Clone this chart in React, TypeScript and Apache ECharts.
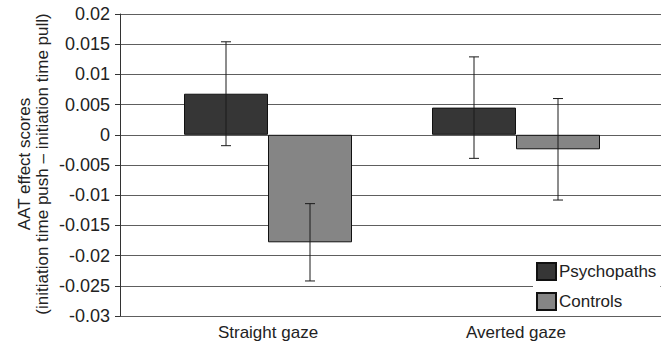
import React, { useEffect, useRef } from "react";
import * as echarts from "echarts";

const categories = ["Straight gaze", "Averted gaze"];
const psychopathMeans = [0.0068, 0.0045];
const psychopathErrors = [0.0086, 0.0084];
const controlMeans = [-0.0178, -0.0024];
const controlErrors = [0.0064, 0.0084];
const yMin = -0.03;
const yMax = 0.02;
const yInterval = 0.005;
const yAxisTitle = "AAT effect scores\n(initiation time push \u2013 initiation time pull)";

const FONT = "'Liberation Sans', Arial, sans-serif";
const BAR_W = 84;

export default function App() {
  const ref = useRef<HTMLDivElement>(null);
  useEffect(() => {
    if (!ref.current) return;
    const chart = echarts.init(ref.current, null, { renderer: "svg" });

    const errorSeries = (means: number[], errs: number[], side: number, name: string) => ({
      type: "custom",
      name,
      xAxisIndex: 1,
      yAxisIndex: 1,
      silent: true,
      z: 10,
      data: means.map((m, i) => [i, m - errs[i], m + errs[i]]),
      renderItem: (params: any, api: any) => {
        const i = api.value(0);
        const lo = api.coord([i, api.value(1)]);
        const hi = api.coord([i, api.value(2)]);
        const x = lo[0] + side * BAR_W / 2;
        const cap = 5;
        const style = { stroke: "#1a1a1a", lineWidth: 1 };
        return {
          type: "group",
          children: [
            { type: "line", shape: { x1: x, y1: hi[1], x2: x, y2: lo[1] }, style },
            { type: "line", shape: { x1: x - cap, y1: hi[1], x2: x + cap, y2: hi[1] }, style },
            { type: "line", shape: { x1: x - cap, y1: lo[1], x2: x + cap, y2: lo[1] }, style },
          ],
        };
      },
    });

    chart.setOption({
      animation: false,
      textStyle: { fontFamily: FONT },
      grid: [
        { left: 120, right: 0, top: 14, bottom: 28 },
        { left: 144, right: 21, top: 14, bottom: 28 },
      ],
      xAxis: [
        { type: "category", gridIndex: 0, data: categories, show: false },
        {
          type: "category",
          gridIndex: 1,
          data: categories,
          axisLine: { show: false },
          axisTick: { show: false },
          axisLabel: { color: "#222", fontSize: 17, fontFamily: FONT, margin: 8 },
        },
      ],
      yAxis: [
        {
          type: "value",
          gridIndex: 0,
          min: yMin,
          max: yMax,
          interval: yInterval,
          axisLine: { show: true, lineStyle: { color: "#333", width: 1 } },
          axisTick: { show: true, length: 5, lineStyle: { color: "#333" } },
          axisLabel: {
            color: "#222",
            fontSize: 18,
            fontFamily: FONT,
            margin: 10,
            formatter: (v: number) => String(parseFloat(v.toFixed(3))),
          },
          splitLine: { show: true, lineStyle: { color: "#5e5e5e", width: 1 } },
        },
        { type: "value", gridIndex: 1, min: yMin, max: yMax, interval: yInterval, show: false },
      ],
      legend: {
        orient: "vertical",
        left: 533,
        top: 258,
        width: 124,
        padding: [4, 4, 4, 3],
        icon: "rect",
        itemWidth: 19,
        itemHeight: 17,
        itemGap: 11,
        backgroundColor: "#fff",
        textStyle: { color: "#222", fontSize: 17, fontFamily: FONT, padding: [0, 0, 0, -2] },
        data: ["Psychopaths", "Controls"],
      },
      graphic: [
        {
          type: "text",
          x: 33,
          y: 164,
          rotation: Math.PI / 2,
          style: {
            text: yAxisTitle,
            fill: "#222",
            font: `17px ${FONT}`,
            align: "center",
            verticalAlign: "middle",
            lineHeight: 18,
          },
        },
      ],
      series: [
        {
          type: "bar",
          name: "Psychopaths",
          xAxisIndex: 1,
          yAxisIndex: 1,
          data: psychopathMeans,
          barWidth: BAR_W,
          barGap: "0%",
          itemStyle: { color: "#363636", borderColor: "#111", borderWidth: 1 },
        },
        {
          type: "bar",
          name: "Controls",
          xAxisIndex: 1,
          yAxisIndex: 1,
          data: controlMeans,
          barWidth: BAR_W,
          barGap: "0%",
          itemStyle: { color: "#858585", borderColor: "#111", borderWidth: 1 },
        },
        errorSeries(psychopathMeans, psychopathErrors, -1, "psyErr"),
        errorSeries(controlMeans, controlErrors, 1, "ctlErr"),
      ],
    });
    return () => chart.dispose();
  }, []);
  return <div ref={ref} style={{ width: 661, height: 344, position: "absolute", left: 0, top: 0 }} />;
}
